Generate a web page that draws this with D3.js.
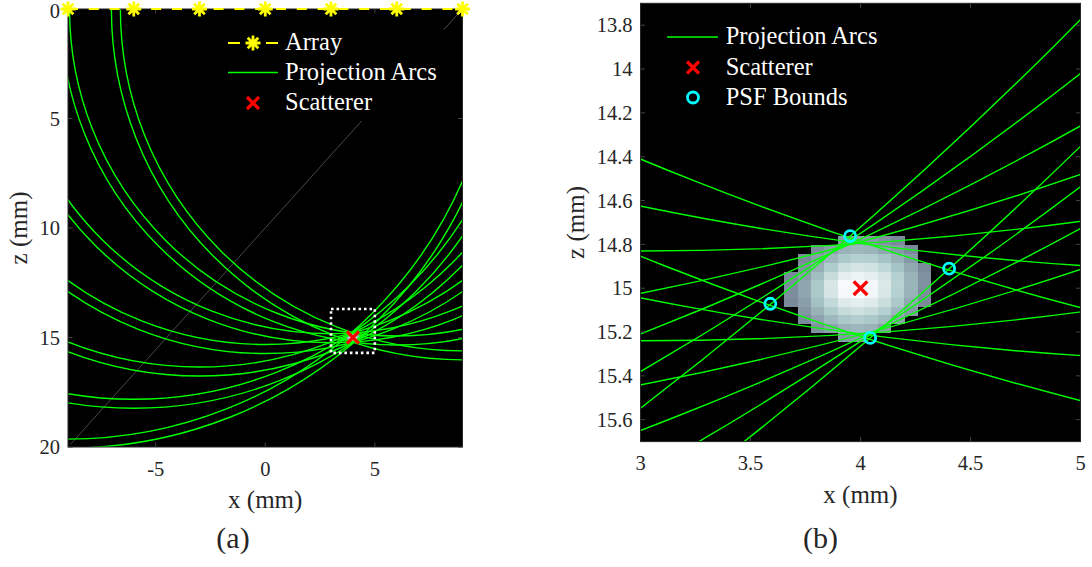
<!DOCTYPE html>
<html>
<head>
<meta charset="utf-8">
<script src="https://cdn.jsdelivr.net/npm/d3@7"></script>
<style>
  html, body { margin: 0; padding: 0; background: #fff; }
  svg { display: block; }
  text { font-family: "Liberation Serif", "Times New Roman", serif; }
</style>
</head>
<body>
<svg id="chart" width="1092" height="567"></svg>
<script>
// ---------------- DATA ----------------
const elementX   = [-9, -6, -3, 0, 3, 6, 9];                 // array element positions (mm), z = 0
const arcInnerR  = [19.64, 17.82, 16.35, 15.32, 14.83, 14.93, 15.61]; // projection arc radii (inner)
const arcOuterR  = [20.05, 18.23, 16.76, 15.73, 15.24, 15.34, 16.02]; // projection arc radii (outer)
const scatterer  = [4, 15];                                   // [x, z] mm
const psfBounds  = [[3.953, 14.762], [4.403, 14.911], [4.044, 15.227], [3.590, 15.071]];
const zoomRegion = [3, 5, 13.7, 15.7];                        // x0, x1, z0, z1 of panel (b)
const seamLine   = [[[8.86, 0.15], [8.15, 0.94]], [[4.40, 5.11], [-8.90, 19.89]]];

const psfXCenters = [3.684, 3.745, 3.805, 3.866, 3.926, 3.987, 4.048, 4.108, 4.169, 4.229, 4.290];
const psfZCenters = [14.784, 14.824, 14.864, 14.904, 14.944, 14.984, 15.024, 15.064, 15.104, 15.144, 15.184, 15.224];
const psfValues = [
  [0,   0,   0,   0,   .60, .62, .61, .58, .55, 0,   0  ],
  [0,   0,   .56, .62, .68, .70, .69, .65, .60, .55, 0  ],
  [0,   .55, .62, .70, .76, .79, .78, .74, .68, .60, 0  ],
  [0,   .58, .67, .77, .85, .88, .87, .82, .74, .65, .55],
  [.55, .62, .72, .84, .93, .95, .93, .88, .79, .68, .57],
  [.56, .64, .76, .89, .98, 1.0, .97, .90, .80, .69, .57],
  [.56, .64, .76, .88, .97, .99, .96, .89, .79, .68, .56],
  [.55, .62, .73, .83, .91, .93, .91, .85, .76, .65, .55],
  [0,   .59, .68, .77, .84, .86, .84, .79, .70, .60, 0  ],
  [0,   .55, .63, .70, .76, .78, .76, .71, .63, 0,   0  ],
  [0,   0,   .57, .63, .68, .70, .68, .62, 0,   0,   0  ],
  [0,   0,   0,   0,   .60, .62, 0,   0,   0,   0,   0  ]
];

const aXDomain = [-9, 9],   aZDomain = [0, 20];
const bXDomain = [3, 5],    bZDomain = [13.7, 15.7];
const aXTicks = [-5, 0, 5];
const aZTicks = [0, 5, 10, 15, 20];
const bXTicks = [3, 3.5, 4, 4.5, 5];
const bZTicks = [13.8, 14, 14.2, 14.4, 14.6, 14.8, 15, 15.2, 15.4, 15.6];
const legendA = ["Array", "Projection Arcs", "Scatterer"];
const legendB = ["Projection Arcs", "Scatterer", "PSF Bounds"];

// ---------------- STYLE / LAYOUT ----------------
const GREEN = "#00ff00", YELLOW = "#ffff00", RED = "#ff0000", CYAN = "#00ffff";
const AXCOL = "#262626";
const FONT = "Liberation Serif, Times New Roman, serif";
const svg = d3.select("#chart");

function bone(t) {
  const c = v => Math.max(0, Math.min(1, v));
  const hr = c(t / 0.375), hg = c((t - 0.375) / 0.375), hb = c((t - 0.75) / 0.25);
  return d3.rgb(255 * (7 * t + hb) / 8, 255 * (7 * t + hg) / 8, 255 * (7 * t + hr) / 8).toString();
}

function makePanel(id, box, xDom, zDom) {
  const xs = d3.scaleLinear().domain(xDom).range([box.l, box.r]);
  const zs = d3.scaleLinear().domain(zDom).range([box.t, box.b]);
  svg.append("clipPath").attr("id", id).append("rect")
    .attr("x", box.l).attr("y", box.t).attr("width", box.r - box.l).attr("height", box.b - box.t);
  svg.append("rect").attr("x", box.l).attr("y", box.t)
    .attr("width", box.r - box.l).attr("height", box.b - box.t).attr("fill", "#000");
  const g = svg.append("g").attr("clip-path", `url(#${id})`);
  return { xs, zs, g, box };
}

function drawPsf(p) {
  const dx = psfXCenters[1] - psfXCenters[0], dz = psfZCenters[1] - psfZCenters[0];
  psfValues.forEach((row, j) => row.forEach((v, i) => {
    if (v <= 0) return;
    const x0 = p.xs(psfXCenters[i] - dx / 2), x1 = p.xs(psfXCenters[i] + dx / 2);
    const z0 = p.zs(psfZCenters[j] - dz / 2), z1 = p.zs(psfZCenters[j] + dz / 2);
    p.g.append("rect").attr("x", x0).attr("y", z0).attr("width", x1 - x0 + 0.3).attr("height", z1 - z0 + 0.3)
      .attr("fill", bone(v)).attr("shape-rendering", "crispEdges");
  }));
}

function drawArcs(p, w) {
  elementX.forEach((xe, i) => {
    [arcInnerR[i], arcOuterR[i]].forEach(r => {
      p.g.append("ellipse")
        .attr("cx", p.xs(xe)).attr("cy", p.zs(0))
        .attr("rx", p.xs(xe + r) - p.xs(xe)).attr("ry", p.zs(r) - p.zs(0))
        .attr("fill", "none").attr("stroke", GREEN).attr("stroke-width", w);
    });
  });
}

function xMark(g, cx, cy, h, w) {
  g.append("path").attr("d", `M${cx - h},${cy - h}L${cx + h},${cy + h}M${cx - h},${cy + h}L${cx + h},${cy - h}`)
    .attr("stroke", RED).attr("stroke-width", w).attr("fill", "none");
}
function star(g, cx, cy, r, w) {
  const d = r * Math.SQRT1_2;
  g.append("path").attr("d",
    `M${cx - r},${cy}L${cx + r},${cy}M${cx},${cy - r}L${cx},${cy + r}` +
    `M${cx - d},${cy - d}L${cx + d},${cy + d}M${cx - d},${cy + d}L${cx + d},${cy - d}`)
    .attr("stroke", YELLOW).attr("stroke-width", w).attr("fill", "none");
}

function frameAndTicks(p, xTicks, zTicks) {
  const { xs, zs, box } = p;
  const tl = 4.4;
  const fg = svg.append("g").attr("font-family", FONT);
  xTicks.forEach(v => {
    fg.append("line").attr("x1", xs(v)).attr("x2", xs(v)).attr("y1", box.b).attr("y2", box.b - tl).attr("stroke", "#444");
    fg.append("line").attr("x1", xs(v)).attr("x2", xs(v)).attr("y1", box.t).attr("y2", box.t + tl).attr("stroke", "#444");
    fg.append("text").attr("x", xs(v)).attr("y", box.b + 28.5).attr("text-anchor", "middle")
      .attr("font-size", 20.5).attr("fill", AXCOL).text(String(v));
  });
  zTicks.forEach(v => {
    fg.append("line").attr("x1", box.l).attr("x2", box.l + tl).attr("y1", zs(v)).attr("y2", zs(v)).attr("stroke", "#444");
    fg.append("line").attr("x1", box.r).attr("x2", box.r - tl).attr("y1", zs(v)).attr("y2", zs(v)).attr("stroke", "#444");
    // keep the text box inside the picture at the very top
    const yy = Math.max(zs(v), 11);
    fg.append("text").attr("x", box.l - 8).attr("y", yy).attr("dy", "0.35em").attr("text-anchor", "end")
      .attr("font-size", 20.5).attr("fill", AXCOL).text(String(v));
  });
  fg.append("rect").attr("x", box.l).attr("y", box.t).attr("width", box.r - box.l).attr("height", box.b - box.t)
    .attr("fill", "none").attr("stroke", AXCOL).attr("stroke-width", 1);
  const cx = (box.l + box.r) / 2;
  fg.append("text").attr("x", cx).attr("y", box.b + 61).attr("text-anchor", "middle")
    .attr("font-size", 25).attr("fill", AXCOL).text("x (mm)");
  return fg;
}

// ---------------- PANEL (a) ----------------
const A = makePanel("clipA", { l: 68, r: 462.5, t: 9, b: 447 }, aXDomain, aZDomain);
seamLine.forEach(s => A.g.append("line")
  .attr("x1", A.xs(s[0][0])).attr("y1", A.zs(s[0][1])).attr("x2", A.xs(s[1][0])).attr("y2", A.zs(s[1][1]))
  .attr("stroke", "#7a7a7a").attr("stroke-width", 0.6));
drawPsf(A);
drawArcs(A, 1.4);
const fa = frameAndTicks(A, aXTicks, aZTicks);
fa.append("text").attr("transform", `translate(27,${(A.box.t + A.box.b) / 2}) rotate(-90)`)
  .attr("text-anchor", "middle").attr("font-size", 25).attr("fill", AXCOL).text("z (mm)");
fa.append("text").attr("x", 233).attr("y", 548).attr("text-anchor", "middle")
  .attr("font-size", 30).attr("fill", AXCOL).text("(a)");

// zoom box
svg.append("rect")
  .attr("x", A.xs(zoomRegion[0])).attr("y", A.zs(zoomRegion[2]))
  .attr("width", A.xs(zoomRegion[1]) - A.xs(zoomRegion[0])).attr("height", A.zs(zoomRegion[3]) - A.zs(zoomRegion[2]))
  .attr("fill", "none").attr("stroke", "#fff").attr("stroke-width", 2.6).attr("stroke-dasharray", "2.6,2.9");
xMark(svg, A.xs(scatterer[0]), A.zs(scatterer[1]), 6, 3.2);

// array line + elements
svg.append("line").attr("x1", A.xs(aXDomain[0])).attr("x2", A.xs(aXDomain[1]))
  .attr("y1", A.zs(0)).attr("y2", A.zs(0))
  .attr("stroke", YELLOW).attr("stroke-width", 2).attr("stroke-dasharray", "10,10.8");
elementX.forEach(xe => star(svg, A.xs(xe), A.zs(0), 7.5, 2.8));

// legend (a)
const la = svg.append("g").attr("font-family", FONT);
la.append("line").attr("x1", 228).attr("x2", 278).attr("y1", 43).attr("y2", 43)
  .attr("stroke", YELLOW).attr("stroke-width", 2).attr("stroke-dasharray", "12,26,12");
star(la, 253, 43, 7.5, 2.8);
la.append("line").attr("x1", 228).attr("x2", 278).attr("y1", 72.5).attr("y2", 72.5)
  .attr("stroke", GREEN).attr("stroke-width", 1.4);
xMark(la, 253, 103, 6, 3.2);
legendA.forEach((t, i) => la.append("text").attr("x", 285).attr("y", 43 + 29.7 * i).attr("dy", "0.3em")
  .attr("font-size", 24.5).attr("fill", "#fff").text(t));

// ---------------- PANEL (b) ----------------
const B = makePanel("clipB", { l: 640.5, r: 1080.5, t: 3.3, b: 441.6 }, bXDomain, bZDomain);
drawPsf(B);
drawArcs(B, 1.4);
psfBounds.forEach(pt => B.g.append("circle").attr("cx", B.xs(pt[0])).attr("cy", B.zs(pt[1])).attr("r", 5.5)
  .attr("fill", "none").attr("stroke", CYAN).attr("stroke-width", 2.8));
xMark(B.g, B.xs(scatterer[0]), B.zs(scatterer[1]), 6.8, 3.4);
const fb = frameAndTicks(B, bXTicks, bZTicks);
fb.append("text").attr("transform", `translate(584,${(B.box.t + B.box.b) / 2}) rotate(-90)`)
  .attr("text-anchor", "middle").attr("font-size", 25).attr("fill", AXCOL).text("z (mm)");
fb.append("text").attr("x", 820.5).attr("y", 548).attr("text-anchor", "middle")
  .attr("font-size", 30).attr("fill", AXCOL).text("(b)");

// legend (b)
const lb = svg.append("g").attr("font-family", FONT);
lb.append("line").attr("x1", 667).attr("x2", 718).attr("y1", 37).attr("y2", 37)
  .attr("stroke", GREEN).attr("stroke-width", 1.4);
xMark(lb, 693, 67.5, 6, 3.2);
lb.append("circle").attr("cx", 693).attr("cy", 97.5).attr("r", 5.5)
  .attr("fill", "none").attr("stroke", CYAN).attr("stroke-width", 2.8);
legendB.forEach((t, i) => lb.append("text").attr("x", 725.7).attr("y", 37 + 30.2 * i).attr("dy", "0.3em")
  .attr("font-size", 24.5).attr("fill", "#fff").text(t));
</script>
</body>
</html>
